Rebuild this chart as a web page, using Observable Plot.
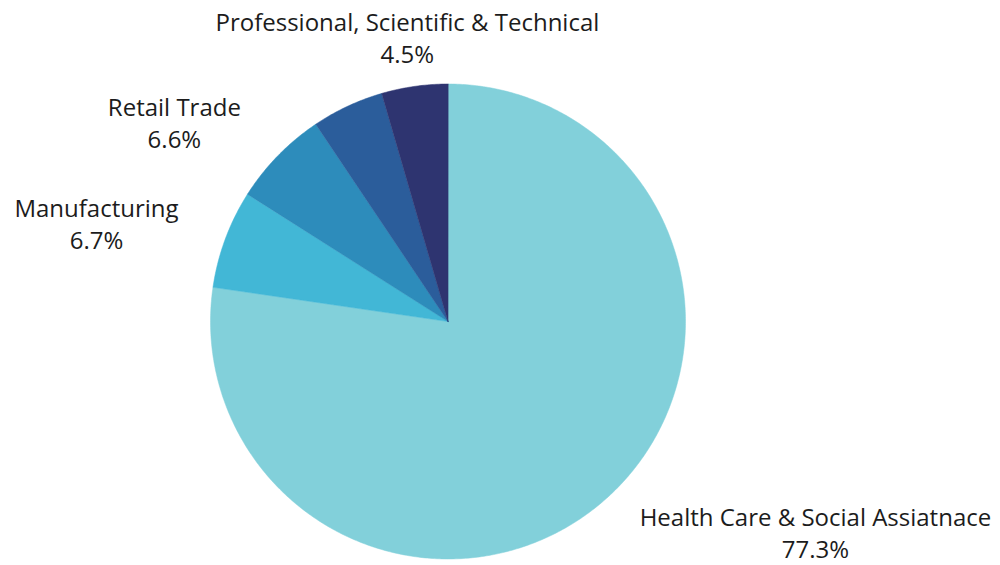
<!DOCTYPE html>
<html>
<head>
<meta charset="utf-8">
<script src="https://cdn.jsdelivr.net/npm/d3@7"></script>
<script src="https://cdn.jsdelivr.net/npm/@observablehq/plot@0.6"></script>
<style>
  html, body { margin: 0; padding: 0; background: #ffffff; }
  #chart { width: 1000px; height: 565px; }
</style>
</head>
<body>
<div id="chart"></div>
<script>
// Slices, clockwise from 12 o'clock
const categories = ["Health Care & Social Assiatnace", "Manufacturing", "Retail Trade", "Other", "Professional, Scientific & Technical"];
const values = [77.3, 6.7, 6.6, 4.9, 4.5];
const showLabel = [true, true, true, false, true];
const colors = ["#82D0DA", "#42B7D6", "#2D8CBB", "#2B5D9B", "#2E3470"];
// Label anchors in units of the pie radius (layout)
const labelX = [1.547, -1.48, -1.152, 0, -0.171];
const labelY = [-0.885, 0.417, 0.842, 0, 1.2];

const W = 1000, H = 565;
const cx = 447.5, cy = 321, R = 237.5;

const pie = d3.pie().sort(null).value(d => d)(values);
const slicePts = [];
pie.forEach((p, i) => {
  slicePts.push({cat: categories[i], x: 0, y: 0});
  const n = Math.max(2, Math.ceil((p.endAngle - p.startAngle) / 0.01));
  for (let k = 0; k <= n; k++) {
    const a = p.startAngle + (p.endAngle - p.startAngle) * k / n;
    slicePts.push({cat: categories[i], x: Math.sin(a), y: Math.cos(a)});
  }
});

const labels = categories.map((c, i) => ({
  cat: c, x: labelX[i], y: labelY[i],
  text: c + "\n" + values[i].toFixed(1) + "%"
})).filter((d, i) => showLabel[i]);

const chart = Plot.plot({
  width: W, height: H,
  margin: 0,
  x: {domain: [-cx / R, (W - cx) / R], axis: null},
  y: {domain: [-(H - cy) / R, cy / R], axis: null},
  color: {domain: categories, range: colors},
  style: {background: "#ffffff", fontFamily: "'Open Sans', sans-serif"},
  marks: [
    Plot.line(slicePts, {x: "x", y: "y", z: "cat", fill: "cat", stroke: "cat", strokeWidth: 0.5, curve: "linear-closed"}),
    Plot.text(labels, {x: "x", y: "y", text: "text", fontSize: 24, lineHeight: 1.33, fill: "#1c1c1c", textAnchor: "middle"})
  ]
});
document.getElementById("chart").appendChild(chart);
</script>
</body>
</html>
